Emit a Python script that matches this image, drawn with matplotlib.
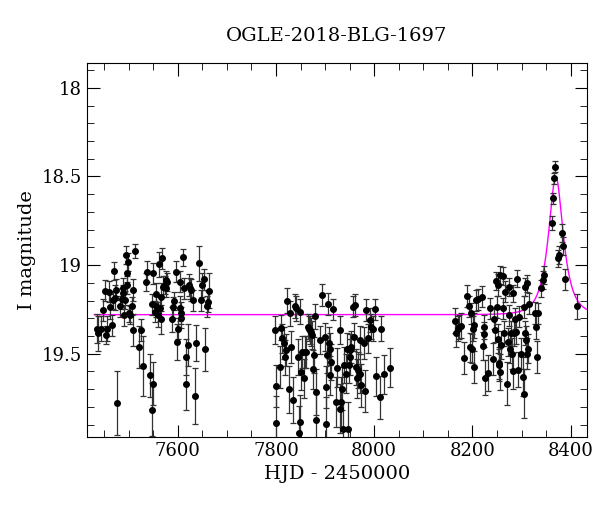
import numpy as np
import matplotlib
matplotlib.use("Agg")
import matplotlib.pyplot as plt
from matplotlib.ticker import MultipleLocator

title = "OGLE-2018-BLG-1697"

hjd_s1 = [7434.5,7437.9,7442.6,7446.7,7451.5,7453.5,7456.2,7459.6,7461.6,7465.0,7467.0,7470.4,7471.8,7473.8,7475.2,7482.0,7485.4,7487.4,7488.7,7490.8,7492.1,7493.5,7495.5,7496.9,7498.9,7500.9,7502.3,7505.7,7507.7,7509.1,7512.5,7521.3,7526.0,7529.4,7534.2,7536.2,7544.3,7546.4,7548.4,7549.8,7549.8,7553.2,7555.2,7556.5,7558.6,7561.3,7563.3,7565.4,7566.7,7568.7,7570.1,7573.5,7575.5,7576.9,7578.9,7589.1,7590.4,7592.5,7595.9,7598.6,7601.0,7604.0,7604.0,7606.0,7607.4,7610.8,7612.1,7616.2,7617.6,7620.9,7623.0,7625.7,7627.7,7631.1,7635.9,7637.9,7643.3,7648.1,7650.1,7652.8,7656.2,7659.6,7661.6,7663.7]
mag_s1 = [19.358,19.386,19.358,19.254,19.145,19.396,19.358,19.151,19.236,19.339,19.198,19.032,19.185,19.138,19.776,19.232,19.189,19.132,19.160,19.283,19.198,18.944,19.044,19.113,18.981,19.273,19.283,19.232,19.141,19.367,18.919,19.462,19.367,19.569,19.094,19.038,19.622,19.816,19.221,19.669,19.047,19.264,19.232,19.164,19.279,18.995,19.245,19.307,19.179,18.963,19.123,19.113,19.132,19.085,19.094,19.307,19.239,19.204,19.038,19.433,19.358,19.094,19.245,19.296,19.270,18.957,19.132,19.518,19.669,19.452,19.113,19.132,19.141,19.198,19.738,19.439,18.991,19.198,19.113,19.081,19.475,19.232,19.207,19.145]
err_s1 = [0.08,0.10,0.07,0.06,0.06,0.05,0.07,0.06,0.07,0.06,0.05,0.05,0.07,0.06,0.18,0.06,0.06,0.06,0.05,0.06,0.05,0.05,0.05,0.05,0.05,0.05,0.05,0.05,0.06,0.09,0.04,0.12,0.06,0.17,0.05,0.06,0.12,0.15,0.06,0.12,0.06,0.06,0.06,0.06,0.07,0.07,0.07,0.08,0.08,0.06,0.06,0.05,0.05,0.05,0.05,0.07,0.06,0.05,0.06,0.10,0.06,0.06,0.07,0.06,0.06,0.05,0.06,0.10,0.15,0.12,0.06,0.06,0.06,0.06,0.16,0.10,0.10,0.06,0.07,0.06,0.12,0.06,0.06,0.10]

hjd_s2 = [7797.3,7799.3,7799.3,7807.5,7810.9,7812.9,7815.6,7817.6,7819.7,7822.4,7826.4,7827.8,7831.2,7834.6,7838.0,7841.4,7844.8,7846.1,7848.1,7849.5,7851.5,7853.6,7856.3,7859.7,7861.7,7865.1,7867.1,7869.8,7871.9,7873.9,7875.3,7876.6,7878.7,7880.7,7882.0,7890.2,7893.6,7899.0,7901.0,7902.4,7903.7,7905.8,7907.1,7909.2,7910.5,7912.6,7915.9,7922.7,7924.8,7929.5,7930.9,7932.9,7934.9,7936.3,7938.3,7941.7,7944.4,7946.5,7948.5,7949.8,7951.2,7953.2,7956.6,7958.7,7960.0,7962.0,7964.8,7966.8,7970.2,7971.5,7973.6,7978.3,7980.4,7982.4,7987.1,7990.5,7993.9,7997.3,8000.7,8004.1,8012.2,8014.3,8019.0,8031.2]
mag_s2 = [19.367,19.683,19.891,19.574,19.354,19.414,19.442,19.521,19.480,19.201,19.702,19.273,19.461,19.759,19.231,19.245,19.518,19.947,19.263,19.885,19.606,19.489,19.640,19.489,19.489,19.348,19.358,19.367,19.376,19.395,19.587,19.508,19.288,19.872,19.715,19.423,19.169,19.405,19.894,19.687,19.508,19.220,19.439,19.476,19.621,19.546,19.250,19.772,19.578,19.367,19.810,19.772,19.697,19.923,19.565,19.612,19.471,19.923,19.565,19.518,19.480,19.461,19.235,19.405,19.226,19.574,19.640,19.593,19.612,19.423,19.678,19.442,19.710,19.254,19.414,19.310,19.348,19.358,19.250,19.627,19.747,19.358,19.616,19.578]
err_s2 = [0.08,0.12,0.15,0.12,0.07,0.08,0.09,0.10,0.09,0.07,0.13,0.07,0.09,0.13,0.07,0.07,0.10,0.15,0.07,0.15,0.10,0.09,0.11,0.09,0.09,0.07,0.07,0.08,0.08,0.08,0.11,0.10,0.07,0.15,0.13,0.08,0.06,0.08,0.15,0.12,0.10,0.06,0.09,0.09,0.11,0.10,0.06,0.14,0.11,0.08,0.14,0.14,0.12,0.15,0.10,0.11,0.09,0.15,0.10,0.10,0.09,0.09,0.06,0.08,0.06,0.10,0.11,0.10,0.11,0.08,0.12,0.09,0.12,0.06,0.08,0.07,0.07,0.07,0.06,0.11,0.12,0.07,0.11,0.11]

hjd_s3 = [8163.6,8166.9,8170.3,8173.7,8177.1,8182.5,8188.6,8192.7,8195.4,8197.5,8198.8,8200.8,8202.9,8204.2,8207.6,8211.7,8219.8,8221.2,8223.2,8224.6,8226.6,8231.4,8236.8,8242.9,8244.9,8247.0,8248.3,8249.7,8251.7,8253.0,8253.7,8255.1,8256.4,8257.1,8258.5,8261.9,8263.2,8265.2,8267.3,8270.0,8272.0,8274.1,8275.4,8276.8,8278.8,8280.8,8282.2,8283.6,8285.6,8287.6,8289.0,8290.3,8292.4,8294.4,8299.2,8302.5,8304.6,8305.9,8307.3,8308.0,8309.3,8310.7,8311.4,8312.7,8316.1,8328.3,8329.7,8331.0,8333.1,8339.8,8343.2,8346.6,8361.5,8364.9,8366.9,8369.0,8373.7,8375.8,8382.5,8385.3,8389.3,8412.4]
mag_s3 = [19.315,19.383,19.358,19.349,19.343,19.522,19.175,19.232,19.465,19.273,19.471,19.358,19.339,19.575,19.198,19.194,19.179,19.458,19.349,19.390,19.635,19.609,19.245,19.528,19.302,19.364,19.089,19.236,19.113,19.415,19.552,19.565,19.603,19.057,19.452,19.062,19.245,19.386,19.151,19.669,19.433,19.283,19.123,19.471,19.386,19.499,19.597,19.160,19.386,19.302,19.377,19.076,19.590,19.292,19.499,19.631,19.725,19.236,19.383,19.123,19.424,19.499,19.104,19.471,19.217,19.270,19.349,19.518,19.273,19.132,19.085,19.057,18.761,18.624,18.511,18.445,18.963,18.944,18.818,18.893,19.081,19.232]
err_s3 = [0.07,0.08,0.07,0.07,0.07,0.09,0.06,0.06,0.08,0.06,0.08,0.07,0.07,0.09,0.06,0.06,0.06,0.08,0.07,0.07,0.10,0.10,0.06,0.09,0.06,0.07,0.05,0.06,0.06,0.08,0.09,0.09,0.10,0.05,0.08,0.05,0.06,0.07,0.06,0.12,0.08,0.06,0.05,0.08,0.07,0.09,0.10,0.05,0.07,0.06,0.07,0.05,0.10,0.06,0.09,0.11,0.14,0.06,0.07,0.05,0.08,0.09,0.05,0.08,0.06,0.06,0.07,0.09,0.06,0.05,0.05,0.05,0.04,0.03,0.03,0.03,0.05,0.05,0.05,0.05,0.06,0.07]

# model parameters
base_mag = 19.28
t0 = 8370.0
u0 = 0.54
tE = 25.0

hjd = np.array(hjd_s1 + hjd_s2 + hjd_s3)
mag = np.array(mag_s1 + mag_s2 + mag_s3)
err = np.array(err_s1 + err_s2 + err_s3)

fig = plt.figure(figsize=(6.0, 5.12), dpi=100)
ax = fig.add_axes([0.145, 0.1465, 0.833, 0.7305])
plt.rcParams["font.family"] = "DejaVu Serif"

t = np.linspace(7430, 8440, 3000)
u = np.sqrt(u0**2 + ((t - t0) / tE)**2)
A = (u**2 + 2) / (u * np.sqrt(u**2 + 4))
ax.plot(t, base_mag - 2.5 * np.log10(A), color="#ff00ff", lw=1.0, zorder=1)

ax.errorbar(hjd, mag, yerr=err, fmt="o", color="black", ms=4, elinewidth=0.9,
            ecolor="#333333", capsize=2.5, capthick=0.9, zorder=2)

ax.set_xlim(7415, 8433)
ax.set_ylim(19.97, 17.86)
ax.xaxis.set_major_locator(MultipleLocator(200))
ax.xaxis.set_minor_locator(MultipleLocator(50))
ax.yaxis.set_major_locator(MultipleLocator(0.5))
ax.yaxis.set_minor_locator(MultipleLocator(0.1))
ax.tick_params(which="both", direction="in", top=True, right=True, labelsize=13)
ax.tick_params(which="major", length=9)
ax.tick_params(which="minor", length=5)
for lab in ax.get_xticklabels() + ax.get_yticklabels():
    lab.set_fontfamily("DejaVu Serif")
ax.set_yticks([18, 18.5, 19, 19.5])
ax.set_yticklabels(["18", "18.5", "19", "19.5"], fontfamily="DejaVu Serif", fontsize=13)
ax.set_xticks([7600, 7800, 8000, 8200, 8400])
ax.set_xticklabels(["7600", "7800", "8000", "8200", "8400"], fontfamily="DejaVu Serif", fontsize=13)
ax.set_xlabel("HJD - 2450000", fontfamily="DejaVu Serif", fontsize=14)
ax.set_ylabel("I magnitude", fontfamily="DejaVu Serif", fontsize=14)
ax.set_title(title, fontfamily="DejaVu Serif", fontsize=14, pad=16)

fig.savefig("out.png", dpi=100)
